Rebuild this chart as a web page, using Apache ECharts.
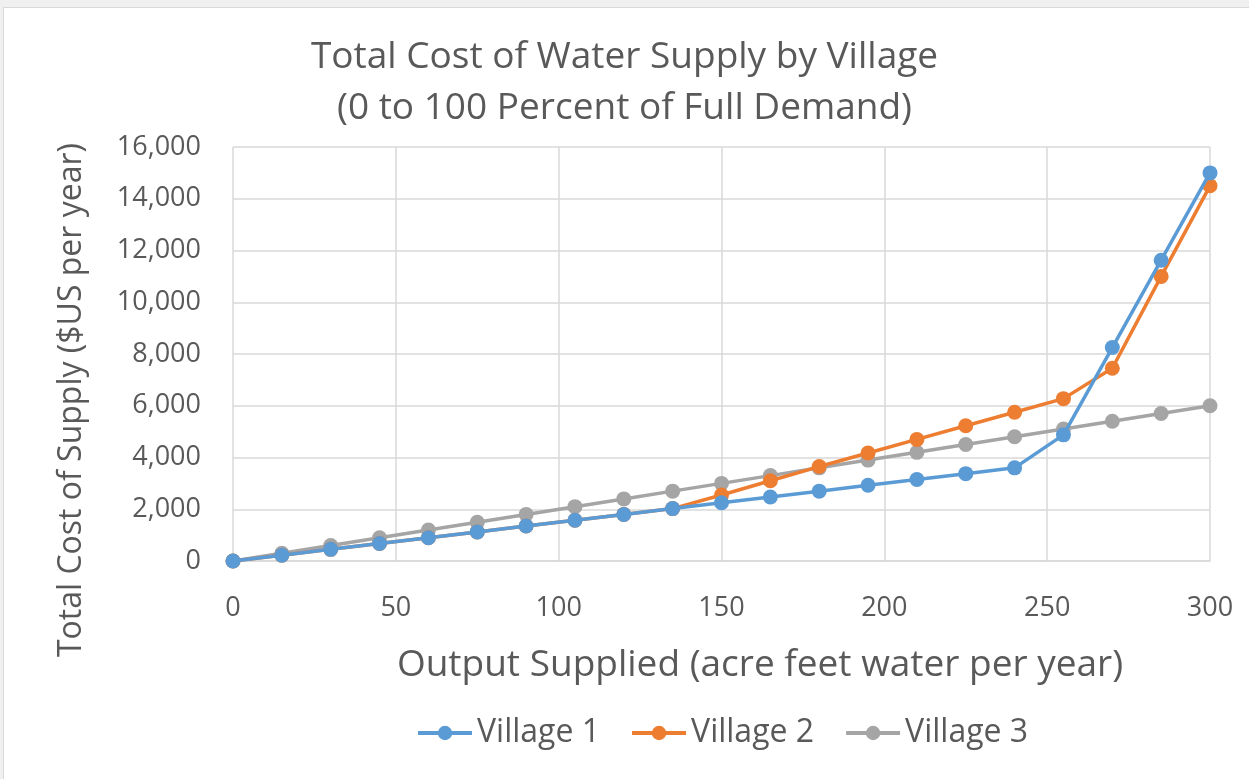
<!DOCTYPE html>
<html><head><meta charset="utf-8">
<script src="https://cdn.jsdelivr.net/npm/echarts@6/dist/echarts.min.js"></script>
<style>
html,body{margin:0;padding:0;background:#f0f0f0;}
#frame{position:absolute;left:3px;top:7px;width:1250px;height:775px;background:#fff;border:1px solid #d9d9d9;}
#c{position:absolute;left:0;top:0;width:1249px;height:779px;}
</style></head>
<body><div id="frame"></div><div id="c"></div>
<script>
const xValues = [0,15,30,45,60,75,90,105,120,135,150,165,180,195,210,225,240,255,270,285,300];
const village1 = [0,225,450,675,900,1125,1350,1575,1800,2025,2250,2475,2700,2925,3150,3375,3600,4875,8250,11625,15000];
const village2 = [0,225,450,675,900,1125,1350,1575,1800,2025,2550,3100,3650,4175,4700,5225,5750,6275,7450,11000,14500];
const village3 = [0,300,600,900,1200,1500,1800,2100,2400,2700,3000,3300,3600,3900,4200,4500,4800,5100,5400,5700,6000];
const seriesNames = ['Village 1','Village 2','Village 3'];
const colors = ['#5b9bd5','#ed7d31','#a5a5a5'];
const titleText = 'Total Cost of Water Supply by Village\n(0 to 100 Percent of Full Demand)';
const xTitle = 'Output Supplied (acre feet water per year)';
const yTitle = 'Total Cost of Supply ($US per year)';

const FONT = 'Open Sans';
const TXT = '#595959';
const chart = echarts.init(document.getElementById('c'), null, {renderer:'canvas'});
const data = [village1, village2, village3];
chart.setOption({
  backgroundColor: 'transparent',
  animation: false,
  color: colors,
  title: {
    text: titleText, left: 'center', top: 27,
    textStyle: {fontFamily: FONT, fontSize: 37, fontWeight: 'normal', color: TXT, lineHeight: 51}
  },
  grid: {left: 233, right: 39, top: 147, bottom: 218},
  xAxis: {
    type: 'value', min: 0, max: 300, interval: 50,
    axisLine: {show: true, lineStyle: {color: '#d9d9d9', width: 1.5}},
    axisTick: {show: false},
    splitLine: {show: true, lineStyle: {color: '#d9d9d9', width: 1.5}},
    axisLabel: {fontFamily: FONT, fontSize: 27, color: TXT, margin: 34}
  },
  yAxis: {
    type: 'value', min: 0, max: 16000, interval: 2000,
    axisLine: {show: false},
    axisTick: {show: false},
    splitLine: {show: true, lineStyle: {color: '#d9d9d9', width: 1.5}},
    axisLabel: {fontFamily: FONT, fontSize: 27, color: TXT, margin: 32,
      formatter: v => v.toLocaleString('en-US')}
  },
  legend: {
    bottom: 25, left: 411, itemWidth: 54, itemHeight: 18, itemGap: 30,
    lineStyle: {width: 4},
    textStyle: {fontFamily: FONT, fontSize: 32, color: TXT},
    data: seriesNames
  },
  graphic: [
    {type: 'text', x: 760, y: 665, style: {text: xTitle, align: 'center', verticalAlign: 'middle', fontFamily: FONT, fontSize: 37, fill: TXT}},
    {type: 'text', rotation: Math.PI/2, x: 72, y: 400, style: {text: yTitle, align: 'center', verticalAlign: 'middle', fontFamily: FONT, fontSize: 32, fill: TXT}}
  ],
  series: data.map((d, i) => ({
    name: seriesNames[i], type: 'line',
    data: xValues.map((x, j) => [x, d[j]]),
    symbol: 'circle', symbolSize: 15,
    lineStyle: {width: 3.5, color: colors[i]},
    itemStyle: {color: colors[i]},
    z: 3 - i
  }))
});
</script></body></html>
